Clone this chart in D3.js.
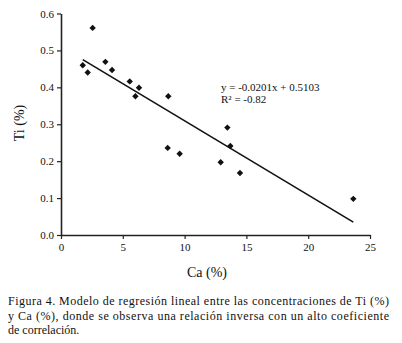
<!DOCTYPE html>
<html>
<head>
<meta charset="utf-8">
<script src="https://cdn.jsdelivr.net/npm/d3@7"></script>
<style>
  body { margin: 0; background: #fff; }
  text { font-family: "Liberation Serif", "Times New Roman", serif; fill: #111; }
</style>
</head>
<body>
<div id="chart"></div>
<script>
// Ca (%) vs Ti (%)
const caValues = [1.76, 2.16, 2.56, 3.59, 4.13, 5.56, 6.02, 6.31, 8.68, 8.63, 9.6, 13.46, 13.7, 12.92, 14.48, 23.65];
const tiValues = [0.46, 0.44, 0.561, 0.469, 0.447, 0.416, 0.376, 0.399, 0.376, 0.236, 0.22, 0.291, 0.241, 0.197, 0.168, 0.098];
const xTicks = [0, 5, 10, 15, 20, 25];
const yTicks = [0, 0.1, 0.2, 0.3, 0.4, 0.5, 0.6];
const slope = -0.0201;
const intercept = 0.5103;
const captionLines = [
    "Figura 4. Modelo de regresión lineal entre las concentraciones de Ti (%)",
    "y Ca (%), donde se observa una relación inversa con un alto coeficiente",
    "de correlación."
];

const width = 402, height = 343;
const margin = { top: 13.5, left: 61 };
const plotW = 309, plotH = 221.5;

const svg = d3.select('#chart').append('svg')
    .attr('width', width)
    .attr('height', height);

const chart = svg.append('g')
    .attr('transform', `translate(${margin.left},${margin.top})`);

const x = d3.scaleLinear().domain([0, 25]).range([0, plotW]);
const y = d3.scaleLinear().domain([0, 0.6]).range([plotH, 0]);

// axes
const xAxis = chart.append('g')
    .attr('transform', `translate(0,${plotH})`)
    .call(d3.axisBottom(x).tickValues(xTicks).tickSize(4).tickSizeOuter(0).tickPadding(4));
const yAxis = chart.append('g')
    .call(d3.axisLeft(y).tickValues(yTicks).tickSize(4).tickSizeOuter(0).tickPadding(3)
        .tickFormat(d3.format('.1f')));

[xAxis, yAxis].forEach(a => {
    a.select('.domain').attr('stroke', '#222').attr('stroke-width', 1.6);
    a.selectAll('.tick line').attr('stroke', '#222').attr('stroke-width', 1.2);
    a.selectAll('.tick text')
        .style('font-family', '"Liberation Serif", serif')
        .style('font-size', '11px')
        .attr('fill', '#111');
});

// trend line over the data range
const xMin = d3.min(caValues), xMax = d3.max(caValues);
chart.append('line')
    .attr('x1', x(xMin)).attr('y1', y(slope * xMin + intercept))
    .attr('x2', x(xMax)).attr('y2', y(slope * xMax + intercept))
    .attr('stroke', '#111')
    .attr('stroke-width', 1.6);

// points
const points = caValues.map((c, i) => ({ ca: c, ti: tiValues[i] }));
chart.selectAll('.pt')
    .data(points)
    .enter().append('path')
    .attr('class', 'pt')
    .attr('d', d3.symbol(d3.symbolDiamond2, 26))
    .attr('transform', d => `translate(${x(d.ca)},${y(d.ti)})`)
    .attr('fill', '#111');

// equation
svg.append('text')
    .attr('x', 221).attr('y', 91)
    .style('font-size', '11px')
    .text(`y = ${slope}x + ${intercept}`);
svg.append('text')
    .attr('x', 221).attr('y', 103)
    .style('font-size', '11px')
    .text('R² = -0.82');

// axis titles
svg.append('text')
    .attr('transform', 'translate(24,123) rotate(-90)')
    .style('text-anchor', 'middle')
    .style('font-size', '14px')
    .text('Ti (%)');

svg.append('text')
    .attr('x', 207).attr('y', 277)
    .style('text-anchor', 'middle')
    .style('font-size', '14px')
    .text('Ca (%)');

// caption
captionLines.forEach((line, i) => {
    const t = svg.append('text')
        .attr('x', 8).attr('y', 305 + i * 14.5)
        .style('font-size', '12px')
        .text(line);
    if (i < captionLines.length - 1) {
        t.attr('textLength', 381).attr('lengthAdjust', 'spacing');
    }
});
</script>
</body>
</html>
